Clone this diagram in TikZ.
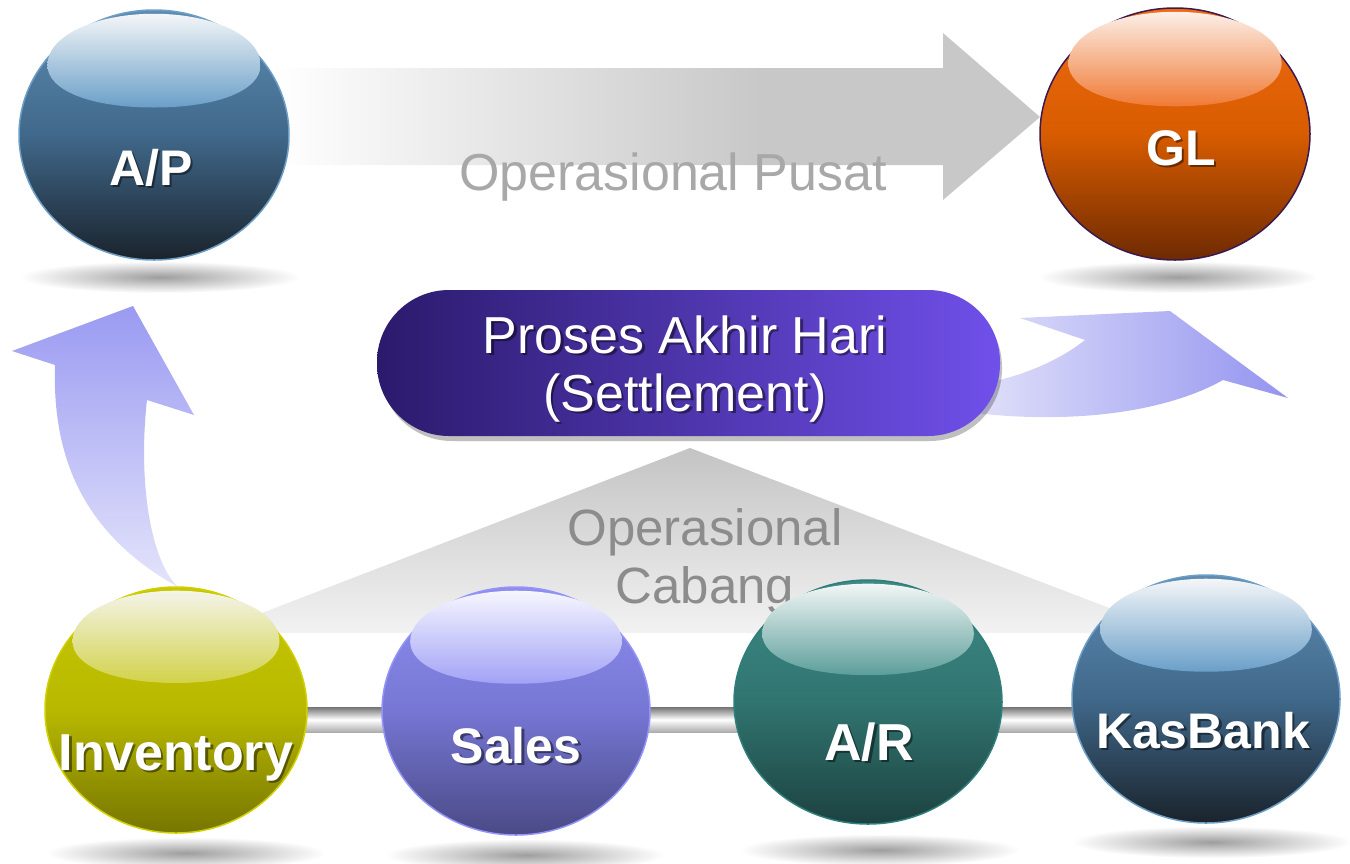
\documentclass[tikz,border=0pt]{standalone}
\usepackage{fontspec}
\setmainfont{Liberation Sans}
\usetikzlibrary{shapes.geometric}
\pgfdeclarelayer{bg}
\pgfsetlayers{bg,main}

% ball colours
\definecolor{apTop}{HTML}{5E8DB4}\definecolor{apMid}{HTML}{40688A}\definecolor{apBot}{HTML}{1A232C}
\definecolor{apRing}{HTML}{6C9EC6}\definecolor{apHlT}{HTML}{F4F6F8}\definecolor{apHlB}{HTML}{6A9FC8}
\definecolor{glTop}{HTML}{F06A12}\definecolor{glMid}{HTML}{D85C00}\definecolor{glBot}{HTML}{6E2A02}
\definecolor{glRing}{HTML}{3A1850}\definecolor{glHlT}{HTML}{FCEFE8}\definecolor{glHlB}{HTML}{F07A35}
\definecolor{invTop}{HTML}{C8C800}\definecolor{invMid}{HTML}{B8B800}\definecolor{invBot}{HTML}{767600}
\definecolor{invRing}{HTML}{D0D000}\definecolor{invHlT}{HTML}{F4F4EA}\definecolor{invHlB}{HTML}{D2D24A}
\definecolor{saTop}{HTML}{8E8EF0}\definecolor{saMid}{HTML}{7676D4}\definecolor{saBot}{HTML}{4A4A86}
\definecolor{saRing}{HTML}{9494FA}\definecolor{saHlT}{HTML}{F6F6FF}\definecolor{saHlB}{HTML}{A2A2F6}
\definecolor{arTop}{HTML}{3C8A86}\definecolor{arMid}{HTML}{317470}\definecolor{arBot}{HTML}{1C4240}
\definecolor{arRing}{HTML}{2E7E7A}\definecolor{arHlT}{HTML}{F2F6F6}\definecolor{arHlB}{HTML}{5C9E9A}
% other colours
\definecolor{pillL}{HTML}{2B1A6C}\definecolor{pillR}{HTML}{7050EA}
\definecolor{triTop}{HTML}{C4C4C4}\definecolor{triBot}{HTML}{F2F2F2}
\definecolor{arrowgray}{HTML}{C8C8C8}
\definecolor{pusatgray}{HTML}{A8A8A8}\definecolor{cabgray}{HTML}{8C8C8C}
\definecolor{larrTop}{HTML}{9A9AF2}\definecolor{larrBot}{HTML}{E4E4FB}
\definecolor{rarrL}{HTML}{E0E0FA}\definecolor{rarrR}{HTML}{9494F0}

% #1 name, #2 cx, #3 cy, #4 rx, #5 ry, #6 colour prefix, #7/#8 shadow centre
\newcommand\ball[8]{%
  \shade[inner color=black!38, outer color=white] (#7,#8) ellipse [x radius=140, y radius=16];
  \node[ellipse, inner sep=0pt, outer sep=0pt, minimum width={2*#4*1pt}, minimum height={2*#5*1pt},
        top color=#6Top, bottom color=#6Bot, middle color=#6Mid, draw=#6Ring, line width=1.5pt] (#1) at (#2,#3) {};
  \shade[top color=#6HlT, bottom color=#6HlB]
    ({#2-0.79*#4},{#3-0.56*#5})
    .. controls ({#2-0.79*#4},{#3-0.79*#5}) and ({#2-0.44*#4},{#3-0.97*#5}) .. ({#2},{#3-0.97*#5})
    .. controls ({#2+0.44*#4},{#3-0.97*#5}) and ({#2+0.79*#4},{#3-0.79*#5}) .. ({#2+0.79*#4},{#3-0.56*#5})
    .. controls ({#2+0.79*#4},{#3-0.36*#5}) and ({#2+0.48*#4},{#3-0.22*#5}) .. ({#2},{#3-0.22*#5})
    .. controls ({#2-0.48*#4},{#3-0.22*#5}) and ({#2-0.79*#4},{#3-0.36*#5}) .. cycle;
}

\tikzset{
  lbl/.style={anchor=base, text=white, font=\bfseries\fontsize{#1}{#1}\selectfont},
  lblsh/.style={lbl=#1, text=black, opacity=.45, xshift=2.5pt, yshift=-2.5pt},
  bigtxt/.style={font=\fontsize{#1}{58}\selectfont, align=center},
}

\begin{document}
\begin{tikzpicture}[x=1pt,y=-1pt]
\useasboundingbox (0,0) rectangle (1350,863);

% Operasional Cabang triangle
\shade[top color=triTop, bottom color=triBot] (690,448) -- (1175,633) -- (210,633) -- cycle;
\node[bigtxt=51, text=cabgray] (cabang) at (705,561) {Operasional\\Cabang};

% left curved arrow (Inventory -> A/P)
\shade[top color=larrTop, bottom color=larrBot]
  (178,587) .. controls (150,560) and (138,480) .. (147,400) -- (194,415) -- (133,306)
  -- (12,351) -- (55,365) .. controls (52,460) and (85,535) .. (178,587) -- cycle;

% top arrow (A/P -> GL)
\begin{scope}
  \clip (275,68) -- (943,68) -- (943,33) -- (1040,117) -- (943,200) -- (943,165) -- (275,165) -- cycle;
  \shade[left color=white, right color=arrowgray] (275,30) rectangle (760,205);
  \fill[arrowgray] (759,30) rectangle (1045,205);
\end{scope}
\node[anchor=base, font=\fontsize{52}{58}\selectfont, text=pusatgray] (pusat) at (673,190) {Operasional Pusat};

% right curved arrow (settlement -> GL)
\shade[left color=rarrL, right color=rarrR]
  (975,385) .. controls (1020,378) and (1060,360) .. (1085,340) -- (1020,318) -- (1170,311)
  -- (1288,398) -- (1223,380) .. controls (1170,410) and (1080,425) .. (975,413) -- cycle;

% balls
\ball{ap}{154}{135}{135}{125}{ap}{160}{277}
\ball{gl}{1175}{134}{135}{126}{gl}{1178}{277}
\ball{inv}{176}{710}{131}{123}{inv}{186}{853}
\ball{sales}{516}{711}{134}{124}{sa}{525}{855}
\ball{ar}{868}{702}{134}{122}{ar}{880}{850}
\ball{kas}{1206}{699}{134}{124}{ap}{1212}{842}

% connecting bar behind the bottom balls
\coordinate (bartop) at (0,707);
\coordinate (barbot) at (0,732);
\begin{pgfonlayer}{bg}
  \shade[top color=black!55, bottom color=black!32, middle color=white]
    (inv.center |- bartop) rectangle (kas.center |- barbot);
\end{pgfonlayer}

% ball labels
\node[lblsh=50] (apsh) at (151,185) {A/P};
\node[lbl=50] (aptxt) at (151,185) {A/P};
\node[lblsh=50] (glsh) at (1181,165) {GL};
\node[lbl=50] (gltxt) at (1181,165) {GL};
\node[lblsh=52] (invsh) at (176,770) {Inventory};
\node[lbl=52] (invtxt) at (176,770) {Inventory};
\node[lblsh=50] (salessh) at (516,763) {Sales};
\node[lbl=50] (salestxt) at (516,763) {Sales};
\node[lblsh=52] (arsh) at (869,760) {A/R};
\node[lbl=52] (artxt) at (869,760) {A/R};
\node[lblsh=50] (kassh) at (1203,748) {KasBank};
\node[lbl=50] (kastxt) at (1203,748) {KasBank};

% settlement pill
\fill[black, opacity=.25, rounded corners=72pt] (380,295) rectangle (1002,441);
\node[rectangle, rounded corners=72pt, minimum width=623pt, minimum height=146pt, inner sep=0pt,
      left color=pillL, right color=pillR] (settle) at (688.5,363) {};
\node[bigtxt=52, text=black, opacity=.45, xshift=2.5pt, yshift=-2.5pt] (settlesh) at (685,369) {Proses Akhir Hari\\(Settlement)};
\node[bigtxt=52, text=white] (settletxt) at (685,369) {Proses Akhir Hari\\(Settlement)};
\end{tikzpicture}
\end{document}
